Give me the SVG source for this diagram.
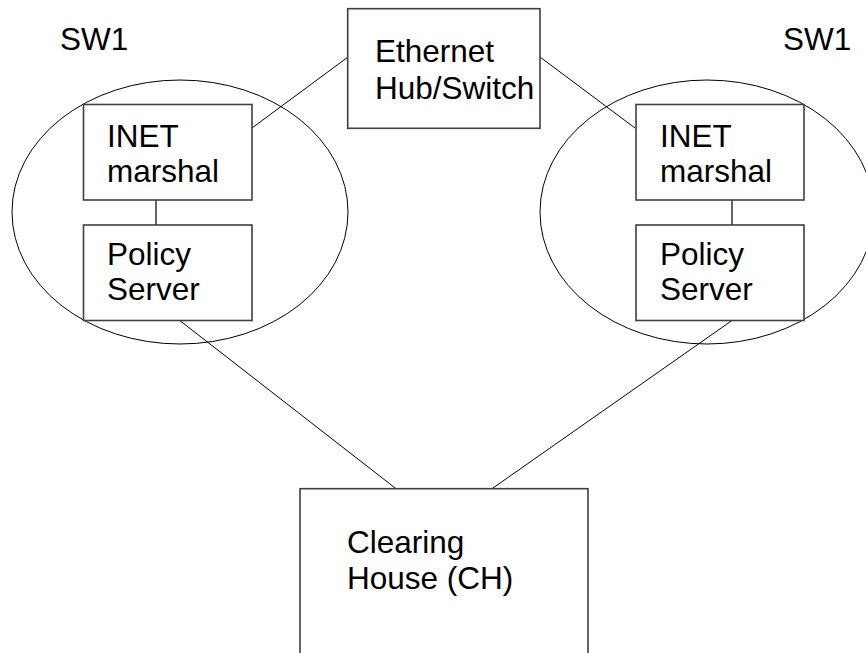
<svg xmlns="http://www.w3.org/2000/svg" width="866" height="653" viewBox="0 0 866 653">
<style>
  .box { fill: #ffffff; stroke: #404040; stroke-width: 1.6; }
  .ell { fill: none; stroke: #000000; stroke-width: 1; }
  .ln { stroke: #000000; stroke-width: 1; fill: none; }
  .lg { stroke: #404040; stroke-width: 1.6; fill: none; }
  text { font-family: "Liberation Sans", Arial, sans-serif; font-size: 31.5px; fill: #000000; }
</style>
<rect width="866" height="653" fill="#ffffff"/>
<g id="sw1-left">
  <ellipse class="ell" cx="180" cy="212" rx="168" ry="132"/>
  <text x="60" y="50">SW1</text>
</g>
<g id="sw1-right">
  <ellipse class="ell" cx="707" cy="212" rx="167" ry="132"/>
  <text x="783" y="50">SW1</text>
</g>
<g id="connectors">
  <line class="ln" x1="252" y1="128" x2="348" y2="57"/>
  <line class="ln" x1="540" y1="57" x2="635" y2="128"/>
  <line class="lg" x1="156" y1="200" x2="156" y2="225"/>
  <line class="lg" x1="732" y1="200" x2="732" y2="225"/>
  <line class="ln" x1="180" y1="320.7" x2="396" y2="488.7"/>
  <line class="ln" x1="731.7" y1="320.7" x2="492" y2="488.7"/>
</g>
<g id="hub">
  <rect class="box" x="347.7" y="8.7" width="192.3" height="119.6"/>
  <text x="375" y="61.7">Ethernet</text>
  <text x="375" y="99">Hub/Switch</text>
</g>
<g id="inet-left">
  <rect class="box" x="83.5" y="104.5" width="168.5" height="95.5"/>
  <text x="107" y="146.7">INET</text>
  <text x="107" y="181.7">marshal</text>
</g>
<g id="policy-left">
  <rect class="box" x="83.5" y="225" width="168.5" height="95.5"/>
  <text x="107" y="265">Policy</text>
  <text x="107" y="300">Server</text>
</g>
<g id="inet-right">
  <rect class="box" x="636" y="104.5" width="168" height="95.5"/>
  <text x="660" y="146.7">INET</text>
  <text x="660" y="181.7">marshal</text>
</g>
<g id="policy-right">
  <rect class="box" x="636" y="225" width="168" height="95.5"/>
  <text x="660" y="265">Policy</text>
  <text x="660" y="300">Server</text>
</g>
<g id="clearing-house">
  <rect class="box" x="300" y="488.7" width="288" height="180"/>
  <text x="347" y="552.7">Clearing</text>
  <text x="347" y="589">House (CH)</text>
</g>
</svg>
